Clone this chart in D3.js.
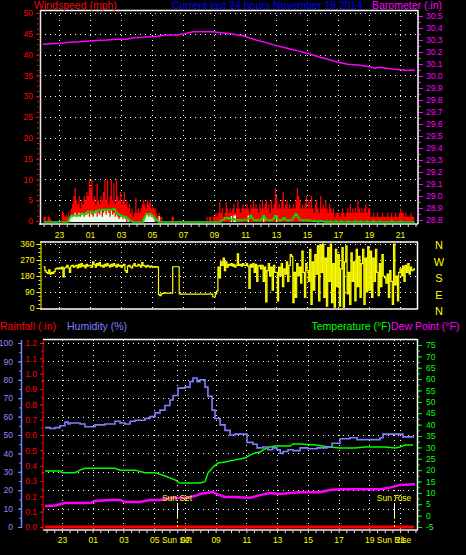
<!DOCTYPE html>
<html>
<head>
<meta charset="utf-8">
<script src="https://d3js.org/d3.v7.min.js"></script>
<style>
  body { margin: 0; background: #000; }
  svg { display: block; }
</style>
</head>
<body>
<script>
'use strict';

// time axis: hours since 22:00 (label "23" sits at 1)
const hourTicks = [1, 3, 5, 7, 9, 11, 13, 15, 17, 19, 21, 23];
const hourLabels = ["23", "01", "03", "05", "07", "09", "11", "13", "15", "17", "19", "21"];

const windTicks = [0, 5, 10, 15, 20, 25, 30, 35, 40, 45, 50];
const baroTicks = [28.8, 28.9, 29, 29.1, 29.2, 29.3, 29.4, 29.5, 29.6, 29.7, 29.8, 29.9, 30, 30.1, 30.2, 30.3, 30.4, 30.5];
const dirTicks = [0, 90, 180, 270, 360];
const compassLabels = ["N", "W", "S", "E", "N"];
const compassDeg = [360, 270, 180, 90, 0];
const humTicks = [0, 10, 20, 30, 40, 50, 60, 70, 80, 90, 100];
const rainTicks = [0, 0.1, 0.2, 0.3, 0.4, 0.5, 0.6, 0.7, 0.8, 0.9, 1, 1.1, 1.2];
const tempTicks = [-5, 0, 5, 10, 15, 20, 25, 30, 35, 40, 45, 50, 55, 60, 65, 70, 75];

// wind samples, one every 5 minutes from 22:00 (one row per hour)
const windStep = 5 / 60;
const windGust = [
  1, 1, 0, 1, 1, 0.5, 0, 0, 0, 0, 0, 0,
  0, 0, 2.4, 2, 1, 1.5, 1, 2, 1, 3, 4, 6,
  8, 5, 4, 6, 3, 5, 4, 6, 5, 7, 6, 10,
  8, 10, 5, 6, 4, 9, 5, 4, 6, 5, 7, 10,
  5, 10, 4, 6, 10, 5, 9, 4, 10, 6, 5, 7,
  4, 5, 7, 4, 5, 3, 4, 2, 3, 1, 2, 5.5,
  2, 3, 2, 3, 4, 5, 4, 3, 5, 4, 5, 3,
  3.4, 3, 3, 2, 1, 2, 1, 1, 0, 0, 0, 0,
  0, 0, 0, 1, 1, 0, 0, 0, 0, 0, 0, 0,
  0, 0, 0, 0, 0, 0, 0, 0, 0, 0, 0, 0,
  0, 0, 0, 0, 0, 0, 1, 0, 1, 1, 0, 1,
  1, 2, 1, 2, 4.5, 2, 3, 1, 2, 4.5, 3, 2,
  3, 2, 3, 4, 2, 3, 5, 3, 2, 3, 4, 3,
  3, 4, 3, 2, 4, 3, 5, 3, 4, 3, 2, 4,
  3, 5, 3, 4, 5, 3, 4, 2, 5, 3, 4, 8,
  6, 3, 4, 3, 5, 7, 3, 4, 5, 3, 4, 3,
  3, 4, 3, 5, 8, 6, 5, 3, 4, 3, 4, 6,
  3, 5, 3, 6, 3, 2, 4, 5, 3, 2, 6, 3,
  4, 3, 5, 3, 2, 4, 3, 2, 3, 1, 2, 2,
  2, 1, 2, 3, 2, 1, 2, 3, 2, 4, 2, 3,
  2, 3, 2, 5, 3, 2, 3, 2, 3, 4, 2, 3,
  3, 1, 1, 2, 1, 1, 2, 1, 1, 1, 2, 1,
  1, 1, 2, 1, 1, 2, 1, 1, 2, 1, 1, 2,
  3, 2, 2, 1, 2, 1, 1, 1, 2, 1, 1, 3
];
const windAvg = [
  0, 0, 0, 0, 0, 0, 0, 0, 0, 0, 0, 0,
  0, 0, 0, 0, 0, 0, 0, 0.5, 1, 1.5, 1.5, 1.5,
  1.5, 1.5, 1.5, 1.5, 1.8, 2, 2, 1.8, 2, 2.2, 2.5, 2.5,
  2.5, 2.5, 2.3, 2.2, 2.5, 2.5, 2.8, 2.8, 2.8, 3, 3, 2.8,
  3, 3, 2.8, 3, 3, 3, 3.2, 2.8, 2.2, 2, 1.8, 1.6,
  1.5, 1.4, 1.4, 1.2, 1, 0.8, 0.5, 0.3, 0.2, 0, 0, 0,
  0, 0, 0, 0, 0, 0.5, 1.2, 1.8, 2, 2, 2, 1.8,
  1.5, 1.2, 0.8, 0.4, 0.2, 0, 0, 0, 0, 0, 0, 0,
  0, 0, 0, 0, 0, 0, 0, 0, 0, 0, 0, 0,
  0, 0, 0, 0, 0, 0, 0, 0, 0, 0, 0, 0,
  0, 0, 0, 0, 0, 0, 0, 0, 0, 0, 0, 0,
  0, 0, 0, 0, 0, 0.3, 0.5, 0.5, 1, 1, 0.8, 1,
  0.8, 0.5, 0.5, 0.8, 0.5, 0.5, 0.3, 0.5, 0.5, 0.3, 0.5, 0.5,
  0.5, 0.5, 0.8, 1, 1.5, 1, 0.5, 0.5, 0.3, 0.5, 0.5, 0.3,
  0.5, 1, 1.5, 1, 0.5, 0.5, 0.5, 0.3, 0.5, 0.5, 1, 1.5,
  1, 0.5, 0.5, 0.3, 0.5, 0.8, 1, 0.5, 0.5, 0.3, 0.5, 0.5,
  0.5, 1, 1.5, 2, 1.5, 1, 0.5, 0.5, 0.5, 0.3, 0.5, 0.5,
  0.3, 0.5, 0.3, 0.2, 0.2, 0.3, 0.2, 0.2, 0, 0.2, 0.3, 0.2,
  0.2, 0, 0, 0.2, 0, 0, 0.2, 0, 0, 0, 0.2, 0,
  0, 0, 0.2, 0, 0, 0, 0, 0.2, 0, 0, 0, 0,
  0, 0.2, 0, 0, 0, 0.2, 0, 0, 0, 0, 0.2, 0,
  0, 0, 0, 0.2, 0, 0, 0, 0, 0.2, 0, 0, 0,
  0, 0, 0, 0, 0, 0.2, 0, 0, 0, 0, 0, 0,
  0.2, 0, 0, 0, 0, 0, 0, 0, 0, 0, 0, 0.2
];
const windSpeed = [
  0, 0, 0, 0, 0, 0, 0, 0, 0, 0, 0, 0,
  0, 0, 0, 0, 0, 0, 0, 0, 1, 1.5, 1, 1.5,
  2, 1, 1.5, 2, 1, 2, 1.5, 1, 2, 1.5, 2, 1,
  2, 1.5, 1, 2, 2.5, 1, 2, 1.5, 2.5, 1, 2, 2.5,
  1.5, 2.5, 2, 1, 2.5, 1.5, 2, 1, 1.5, 1, 0.5, 1,
  1, 0.5, 1, 0.5, 0, 0.5, 0, 0, 0, 0, 0, 0,
  0, 0, 0, 0, 0, 0.5, 1, 1.5, 1.5, 1, 1.5, 1,
  1, 0.5, 0, 0, 0, 1.2, 0, 0, 0, 0, 0, 0,
  0, 0, 0, 0, 0, 0, 0, 0, 0, 0, 0, 0,
  0, 0, 0, 0, 0, 0, 0, 0, 0, 0, 0, 0,
  0, 0, 0, 0, 0, 0, 0, 0, 0, 0, 0, 0,
  0, 0, 0, 0, 0, 0, 0, 0, 0, 0, 0, 0,
  0, 1.2, 0, 1.3, 1.3, 0, 0, 0, 0, 0, 0, 0,
  0, 0, 1.3, 0, 0, 0, 0, 0, 0, 0, 0, 0,
  0, 0, 1.3, 0, 0, 0, 0, 0, 0, 0, 0, 0,
  1.3, 0, 0, 0, 0, 0, 0, 0, 0, 0, 0, 0,
  0, 0, 0, 0, 0, 0, 0, 0, 0, 0, 0, 0,
  0, 0, 0, 0, 0, 0, 0, 0, 0, 0, 0, 0,
  0, 0, 0, 0, 0, 0, 0, 0, 0, 0, 0, 0,
  0, 0, 0, 0, 0, 0, 0, 0, 0, 0, 0, 0,
  0, 0, 0, 0, 0, 0, 0, 0, 0, 0, 0, 0,
  0, 0, 0, 0, 0, 0, 0, 0, 0, 0, 0, 0,
  0, 0, 0, 0, 0, 0, 0, 0, 0, 0, 0, 0,
  0, 0, 0, 0, 0, 0, 0, 0, 0, 0, 0, 0
];
const windDir = [
  231, 210, 200, 195, 215, 190, 200, 195, 205, 220, 225, 220,
  225, 220, 230, 175, 225, 230, 240, 225, 200, 235, 240, 230,
  236, 240, 225, 245, 230, 250, 235, 240, 225, 245, 235, 240,
  240, 230, 260, 245, 230, 250, 240, 255, 235, 240, 230, 245,
  235, 250, 240, 230, 245, 235, 250, 240, 230, 245, 235, 240,
  230, 240, 245, 210, 200, 235, 240, 230, 225, 240, 250, 235,
  235, 245, 240, 230, 255, 240, 235, 230, 240, 235, 230, 235,
  232, 230, 233, 230, 232, 75, 70, 80, 82, 85, 84, 84,
  84, 84, 84, 84, 232, 232, 232, 232, 232, 80, 78, 78,
  78, 78, 78, 78, 78, 78, 78, 78, 78, 78, 78, 78,
  78, 78, 78, 78, 78, 78, 78, 78, 78, 78, 78, 62,
  62, 80, 95, 230, 170, 260, 240, 280, 210, 260, 230, 245,
  240, 250, 235, 245, 230, 240, 305, 240, 245, 235, 250, 240,
  240, 250, 235, 110, 245, 230, 250, 200, 245, 150, 235, 240,
  220, 240, 150, 230, 35, 210, 250, 180, 230, 100, 240, 200,
  200, 40, 230, 180, 250, 120, 220, 190, 260, 150, 240, 300,
  290, 30, 200, 60, 250, 180, 230, 140, 320, 200, 60, 250,
  210, 150, 330, 20, 260, 100, 300, 190, 350, 40, 355, 200,
  360, 60, 280, 10, 340, 150, 360, 30, 250, 5, 330, 120,
  300, 10, 220, 340, 5, 260, 350, 80, 200, 20, 310, 150,
  260, 40, 330, 120, 290, 60, 250, 330, 20, 280, 90, 345,
  100, 320, 60, 280, 150, 330, 200, 70, 250, 120, 300, 180,
  170, 140, 190, 60, 210, 150, 20, 360, 130, 180, 40, 200,
  220, 180, 235, 150, 240, 200, 250, 190, 230, 210, 215, 225
];

// barometer (.in)
const baroHrs = [-0.04, 1.06, 1.71, 2.35, 3.12, 4.09, 4.74, 5.38, 5.77, 6.42, 7.33, 7.97, 8.61, 9.12, 9.65, 10.93, 11.19, 12.03, 12.22, 12.87, 13.71, 14.36, 15.0, 15.58, 15.96, 16.61, 17.25, 17.83, 18.35, 18.87, 19.64, 20.42, 21.06, 21.38, 21.71, 22.35, 23.0, 23.38, 23.96];
const baro = [30.264, 30.273, 30.281, 30.286, 30.294, 30.300, 30.306, 30.306, 30.319, 30.322, 30.331, 30.342, 30.342, 30.353, 30.369, 30.369, 30.364, 30.353, 30.348, 30.336, 30.300, 30.278, 30.253, 30.236, 30.223, 30.203, 30.181, 30.156, 30.139, 30.119, 30.098, 30.089, 30.078, 30.064, 30.073, 30.061, 30.053, 30.048, 30.048];

// humidity (%)
const humHrs = [-0.1, 0.23, 0.55, 0.88, 1.2, 1.4, 1.53, 2.18, 2.5, 2.83, 3.15, 3.8, 4.45, 4.78, 5.1, 5.43, 5.76, 6.4, 6.73, 7.06, 7.38, 7.7, 8.03, 8.23, 8.55, 9.0, 9.33, 9.53, 9.79, 9.98, 10.31, 10.5, 10.77, 10.96, 11.29, 11.61, 11.94, 12.26, 12.78, 13.04, 13.43, 13.7, 14.08, 14.4, 14.7, 14.99, 15.2, 15.38, 15.7, 16.04, 16.49, 17.0, 17.6, 18.25, 18.57, 19.09, 19.74, 20.2, 21.05, 21.7, 21.89, 22.8, 23.19, 23.84];
const humidity = [54, 53.5, 54, 55, 57, 56, 56.5, 56, 54.5, 54.5, 55.5, 56, 57.5, 56.5, 56, 57.5, 58, 59, 60, 62, 63.5, 66, 69, 71.5, 75.5, 76, 79, 81, 79, 80, 76, 71, 63.5, 59, 55.5, 52.5, 50, 50.5, 50.5, 46, 45, 43, 43.5, 42, 43, 42, 40, 41, 42, 41.5, 43, 42.5, 43, 43.5, 45.5, 48, 48.5, 47.5, 47.5, 48.5, 50.5, 50.5, 49, 49.5];

// temperature (F)
const tempHrs = [-0.1, 0.88, 1.01, 1.85, 2.18, 2.5, 4.45, 4.78, 5.76, 6.4, 7.06, 7.71, 8.36, 8.68, 9.98, 10.31, 10.5, 10.83, 11.16, 11.61, 12.26, 12.91, 13.24, 13.56, 13.89, 14.21, 14.54, 14.87, 15.84, 16.04, 16.49, 17.47, 18.44, 19.09, 20.07, 20.72, 22.02, 22.67, 22.99, 23.32, 23.84];
const temperature = [19.6, 19.6, 18.9, 18.9, 20, 20.8, 20.8, 20, 20, 18.9, 18.9, 17.4, 15.7, 14.3, 14.3, 14.9, 18.7, 21.4, 23.1, 23.6, 24.5, 25.3, 26.6, 27.5, 28, 29.3, 30.2, 30.6, 30.6, 31.5, 31.5, 31, 30.2, 29.7, 29.7, 30.2, 30.2, 29.7, 30.2, 31, 31];

// dew point (F)
const dewHrs = [-0.1, 0.55, 1.2, 2.83, 3.15, 4.13, 4.78, 5.1, 6.08, 6.73, 7.38, 8.03, 9.0, 9.66, 9.98, 10.83, 11.16, 11.61, 12.13, 13.24, 13.89, 14.54, 15.19, 15.84, 16.49, 17.79, 18.44, 19.09, 21.7, 22.35, 22.99, 23.97];
const dewPoint = [4.2, 4.5, 5.5, 5.5, 6.4, 6.9, 6.9, 6.0, 6.0, 6.9, 6.9, 7.7, 7.7, 8.6, 9.5, 10.4, 9.2, 8.2, 8.2, 7.9, 9.0, 9.9, 9.5, 9.9, 10.3, 10.3, 11.3, 11.6, 11.6, 12.3, 13.5, 13.8];

// rainfall (.in)
const rainHrs = [-0.1, 23.9];
const rainfall = [0, 0];

const sunLabels = ["Sun Set", "Sun Rise"];
const sunHrs = [8.49, 22.61];

(function() {

  let svgContainer = ""; // keep SVG reference in outer scope
  const font = '"Liberation Sans", Arial, sans-serif';

  // shared time scales (top two panels / bottom panel)
  const xWind = d3.scaleLinear().domain([-0.23, 24.16]).range([40, 418]);
  const xHum = d3.scaleLinear().domain([-0.23, 24.1]).range([43, 417]);

  window.onload = function() {
    svgContainer = d3.select('body')
      .append('svg')
      .attr('width', 466)
      .attr('height', 555)
      .style('background', '#000');

    makeWindPanel();
    makeDirPanel();
    makeWeatherPanel();
  };

  function addText(x, y, str, color, size, anchor) {
    svgContainer.append('text')
      .attr('x', x)
      .attr('y', y)
      .attr('fill', color)
      .attr('text-anchor', anchor || 'start')
      .style('font-family', font)
      .style('font-size', size + 'px')
      .text(str);
  }

  function hLine(x1, x2, y, color, w) {
    svgContainer.append('line')
      .attr('x1', x1).attr('x2', x2).attr('y1', y).attr('y2', y)
      .attr('stroke', color).attr('stroke-width', w || 1);
  }

  function vLine(x, y1, y2, color, w) {
    svgContainer.append('line')
      .attr('x1', x).attr('x2', x).attr('y1', y1).attr('y2', y2)
      .attr('stroke', color).attr('stroke-width', w || 1);
  }

  // dotted white grid
  function drawGrid(xVals, yVals, x0, x1, y0, y1) {
    let g = svgContainer.append('g')
      .attr('stroke', '#fff')
      .attr('stroke-dasharray', '1,4')
      .attr('shape-rendering', 'crispEdges');
    g.selectAll('.vg').data(xVals).enter().append('line')
      .attr('x1', d => Math.round(d) + 0.5).attr('x2', d => Math.round(d) + 0.5)
      .attr('y1', y0).attr('y2', y1);
    g.selectAll('.hg').data(yVals).enter().append('line')
      .attr('y1', d => Math.round(d) + 0.5).attr('y2', d => Math.round(d) + 0.5)
      .attr('x1', x0).attr('x2', x1);
  }

  function styleAxis(g, color, size) {
    g.select('.domain').remove();
    g.selectAll('line').attr('stroke', color);
    g.selectAll('text')
      .attr('fill', color)
      .style('font-family', font)
      .style('font-size', (size || 8.5) + 'px');
  }

  function makeYAxis(axis, x, color, size) {
    svgContainer.append('g')
      .attr('transform', 'translate(' + x + ',0)')
      .call(axis)
      .call(g => styleAxis(g, color, size));
  }

  function makeTimeAxis(xScale, y, pad) {
    // half hour ticks
    let minor = d3.axisBottom(xScale).tickValues(d3.range(0, 24.1, 0.5)).tickSize(3).tickFormat('');
    svgContainer.append('g').attr('transform', 'translate(0,' + y + ')')
      .call(minor).call(g => styleAxis(g, '#ddd'));
    let labels = d3.axisBottom(xScale).tickValues(hourTicks)
      .tickFormat((d, i) => hourLabels[i]).tickSize(0).tickPadding(pad);
    svgContainer.append('g').attr('transform', 'translate(0,' + y + ')')
      .call(labels).call(g => styleAxis(g, '#ffff00'));
  }

  // windspeed + barometer
  function makeWindPanel() {
    let yWind = d3.scaleLinear().domain([0, 50]).range([221, 13]);
    let yBaro = d3.scaleLinear().domain([28.8, 30.5]).range([220, 16]);

    drawGrid(hourTicks.map(xWind), windTicks.slice(1).map(yWind), 40, 418, 10, 224);

    let times = windGust.map((d, i) => i * windStep);

    let gust = d3.area().curve(d3.curveStepAfter)
      .x((d, i) => xWind(times[i]))
      .y0(yWind(0) + 1)
      .y1(d => yWind(d));
    svgContainer.append('path').datum(windGust).attr('d', gust).attr('fill', '#ff0000');

    let speed = d3.area().curve(d3.curveStepAfter)
      .x((d, i) => xWind(times[i]))
      .y0(yWind(0) + 1)
      .y1(d => d > 0 ? yWind(d) : yWind(0) + 1);
    svgContainer.append('path').datum(windSpeed).attr('d', speed).attr('fill', '#e6ffe6');

    let avg = d3.line().curve(d3.curveStepAfter)
      .x((d, i) => xWind(times[i]))
      .y(d => yWind(d) + 1);
    svgContainer.append('path').datum(windAvg).attr('d', avg)
      .attr('fill', 'none').attr('stroke', '#00e000').attr('stroke-width', 1.5);

    let baroLine = d3.line()
      .x((d, i) => xWind(baroHrs[i]))
      .y(d => yBaro(d));
    svgContainer.append('path').datum(baro).attr('d', baroLine)
      .attr('fill', 'none').attr('stroke', '#ff00ff').attr('stroke-width', 1.5);

    // frame
    hLine(40, 418, 10.5, '#fff', 1.5);
    vLine(418, 10, 224, '#fff', 1.5);
    vLine(40.5, 10, 225, '#e8e8e8', 1.5);
    hLine(39, 418, 224, '#e8e8e8', 1.5);

    makeYAxis(d3.axisLeft(yWind).tickValues(d3.range(0, 50.1, 1.25)).tickSize(2).tickFormat(''), 39, '#ff0000');
    makeYAxis(d3.axisLeft(yWind).tickValues(windTicks).tickSize(3).tickPadding(3), 39, '#ff0000');
    makeYAxis(d3.axisRight(yBaro).tickValues(d3.range(28.8, 30.52, 0.05)).tickSize(2).tickFormat(''), 419, '#ff00ff');
    makeYAxis(d3.axisRight(yBaro).tickValues(baroTicks).tickSize(4).tickPadding(3), 419, '#ff00ff');

    makeTimeAxis(xWind, 224, 8);

    addText(34, 8.5, 'Windspeed (mph)', '#ff0000', 10.5);
    addText(172, 8.5, 'Current last 24 hours November 19 2014', '#0000ff', 10.5);
    addText(372, 8.5, 'Barometer (.in)', '#ff00ff', 10.5);
  }

  // wind direction
  function makeDirPanel() {
    let yDir = d3.scaleLinear().domain([0, 360]).range([308, 244]);

    drawGrid(hourTicks.map(xWind), dirTicks.slice(1).map(yDir), 40, 418, 242, 309);

    let times = windDir.map((d, i) => i * windStep);
    let dirLine = d3.line().curve(d3.curveStepAfter)
      .x((d, i) => xWind(times[i]))
      .y(d => yDir(d));
    svgContainer.append('path').datum(windDir).attr('d', dirLine)
      .attr('fill', 'none').attr('stroke', '#ffff00').attr('stroke-width', 1.2);

    hLine(40, 418, 242, '#fff', 1.5);
    hLine(40, 418, 309, '#fff', 1.5);
    vLine(417.5, 242, 309, '#fff', 1.5);
    vLine(41, 242, 309, '#ffff00', 1);

    makeYAxis(d3.axisLeft(yDir).tickValues(d3.range(0, 361, 22.5)).tickSize(2).tickFormat(''), 40.5, '#ffff00');
    makeYAxis(d3.axisLeft(yDir).tickValues(dirTicks).tickSize(4).tickPadding(2), 40.5, '#ffff00');

    compassLabels.forEach((c, i) => {
      addText(439, yDir(compassDeg[i]) + 5 + i * 0.6, c, '#ffff00', 11, 'middle');
    });
  }

  // rainfall, humidity, temperature, dew point
  function makeWeatherPanel() {
    let yHum = d3.scaleLinear().domain([0, 100]).range([527, 343]);
    let yRain = d3.scaleLinear().domain([0, 1.2]).range([527, 343]);
    let yTemp = d3.scaleLinear().domain([-5, 75]).range([527, 345]);

    drawGrid(hourTicks.concat(sunHrs).map(xHum), humTicks.slice(1).map(yHum), 43, 417, 340, 503);
    drawGrid(hourTicks.map(xHum), [], 43, 417, 503, 530);

    let rainLine = d3.line().x((d, i) => xHum(rainHrs[i])).y(d => yRain(d));
    svgContainer.append('path').datum(rainfall).attr('d', rainLine)
      .attr('fill', 'none').attr('stroke', '#ff0000').attr('stroke-width', 3);

    let dewLine = d3.line().x((d, i) => xHum(dewHrs[i])).y(d => yTemp(d));
    svgContainer.append('path').datum(dewPoint).attr('d', dewLine)
      .attr('fill', 'none').attr('stroke', '#ff00ff').attr('stroke-width', 2.5);

    let tempLine = d3.line().x((d, i) => xHum(tempHrs[i])).y(d => yTemp(d));
    svgContainer.append('path').datum(temperature).attr('d', tempLine)
      .attr('fill', 'none').attr('stroke', '#00ff00').attr('stroke-width', 1.5);

    let humLine = d3.line().curve(d3.curveStepAfter).x((d, i) => xHum(humHrs[i])).y(d => yHum(d));
    svgContainer.append('path').datum(humidity).attr('d', humLine)
      .attr('fill', 'none').attr('stroke', '#7f7fff').attr('stroke-width', 1.6);

    // sun markers
    sunHrs.forEach((t, i) => {
      let x = Math.round(xHum(t)) + 0.5;
      vLine(x, 503, 517, '#fff', 1);
      svgContainer.append('line')
        .attr('x1', x).attr('x2', x).attr('y1', 517).attr('y2', 529)
        .attr('stroke', '#ffff00').attr('stroke-dasharray', '2,2');
      addText(xHum(t), 501, sunLabels[i], '#ffff00', 8.5, 'middle');
      addText(xHum(t), 543, sunLabels[i], '#ffff00', 8.5, 'middle');
    });

    // frame
    hLine(43, 417, 339.5, '#fff', 1.5);
    vLine(417.5, 339, 530, '#fff', 1.5);
    hLine(43, 418, 530, '#e8e8e8', 1.5);
    vLine(43, 340, 530, '#ff0000', 1);
    vLine(21.5, 340, 528, '#7f7fff', 1.5);

    makeYAxis(d3.axisLeft(yHum).tickValues(d3.range(0, 101, 5)).tickSize(2).tickFormat(''), 21, '#7f7fff');
    makeYAxis(d3.axisLeft(yHum).tickValues(humTicks).tickSize(3).tickPadding(5), 21, '#8c8cff');
    makeYAxis(d3.axisLeft(yRain).tickValues(d3.range(0, 1.21, 0.05)).tickSize(2).tickFormat(''), 43, '#ff0000');
    makeYAxis(d3.axisLeft(yRain).tickValues(rainTicks).tickSize(3).tickPadding(3), 43, '#ff0000');
    makeYAxis(d3.axisRight(yTemp).tickValues(d3.range(-5, 75.1, 2.5)).tickSize(2).tickFormat(''), 418, '#00ff00');
    makeYAxis(d3.axisRight(yTemp).tickValues(tempTicks).tickSize(4).tickPadding(4).tickFormat(d => String(d)), 418, '#00ff00');

    makeTimeAxis(xHum, 530, 7);

    addText(0, 330, 'Rainfall (.in)', '#ff0000', 10.5);
    addText(67, 330, 'Humidity (%)', '#7f7fff', 10.5);
    addText(391, 330, 'Temperature (°F)', '#00ff00', 10.5, 'end');
    addText(391, 330, 'Dew Point (°F)', '#ff00ff', 10.5);
  }

})();
</script>
</body>
</html>
